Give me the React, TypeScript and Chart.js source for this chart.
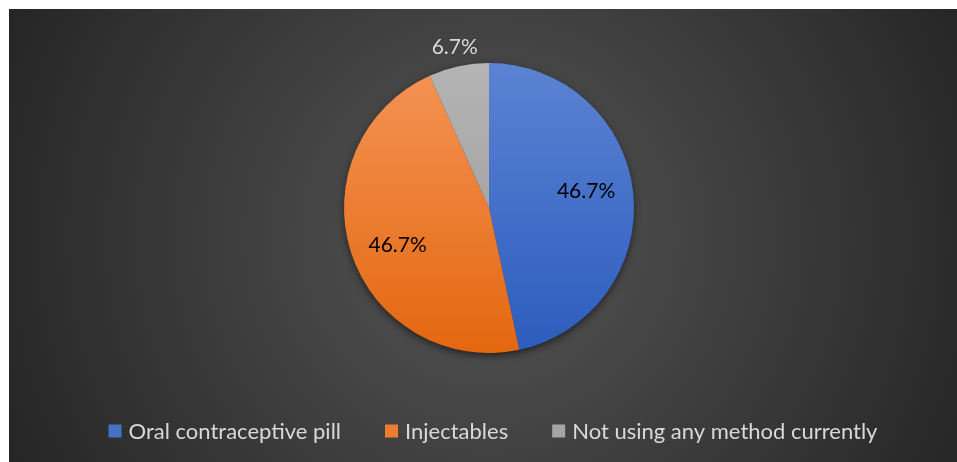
import React, { useEffect, useRef } from "react";
import { Chart, registerables } from "chart.js";

Chart.register(...registerables);

const categories = ["Oral contraceptive pill", "Injectables", "Not using any method currently"];
const values = [46.7, 46.7, 6.7];
const valueLabels = ["46.7%", "46.7%", "6.7%"];
const legendColors = ["#4472C4", "#ED7D31", "#A5A5A5"];
const gradTop = ["#5B83D3", "#F49456", "#B4B4B4"];
const gradBottom = ["#2C5CBD", "#E4670F", "#989898"];

const FONT = "Lato, 'Open Sans', sans-serif";

export default function App() {
  const ref = useRef<HTMLCanvasElement | null>(null);

  useEffect(() => {
    const canvas = ref.current;
    if (!canvas) return;

    const bgPlugin = {
      id: "bg",
      beforeDraw(chart: any) {
        const { ctx, width, height } = chart;
        const ca = chart.chartArea;
        const cx = ca ? (ca.left + ca.right) / 2 : width / 2;
        const g = ctx.createRadialGradient(cx, height * 0.5, 0, cx, height * 0.5, width * 0.55);
        g.addColorStop(0, "#555555");
        g.addColorStop(1, "#262626");
        ctx.save();
        ctx.fillStyle = g;
        ctx.fillRect(0, 0, width, height);
        ctx.restore();
      },
      beforeDatasetsDraw(chart: any) {
        const meta = chart.getDatasetMeta(0);
        const arc = meta.data[0];
        if (!arc) return;
        const { ctx } = chart;
        ctx.save();
        ctx.shadowColor = "rgba(0,0,0,0.65)";
        ctx.shadowBlur = 9;
        ctx.shadowOffsetY = 3;
        ctx.fillStyle = "#3a3a3a";
        ctx.beginPath();
        ctx.arc(arc.x, arc.y, arc.outerRadius - 1, 0, Math.PI * 2);
        ctx.fill();
        ctx.restore();
      },
      afterDatasetsDraw(chart: any) {
        const { ctx } = chart;
        const meta = chart.getDatasetMeta(0);
        ctx.save();
        ctx.textAlign = "center";
        ctx.textBaseline = "middle";
        ctx.font = `21px ${FONT}`;
        meta.data.forEach((arc: any, i: number) => {
          const small = arc.circumference < 0.5;
          const mid = (arc.startAngle + arc.endAngle) / 2 - (small ? 0 : 0.07);
          const r = small ? arc.outerRadius + 19 : arc.outerRadius * 0.68;
          const x = arc.x + Math.cos(mid) * r;
          const y = arc.y + Math.sin(mid) * r;
          ctx.fillStyle = small ? "#D9D9D9" : "#000000";
          ctx.fillText(valueLabels[i], x, y);
        });
        ctx.restore();
      },
      afterDraw(chart: any) {
        const { ctx } = chart;
        const ca = chart.chartArea;
        const box = 13;
        const gapText = 7;
        const gapItem = 44;
        ctx.save();
        ctx.font = `22px ${FONT}`;
        ctx.textBaseline = "middle";
        ctx.textAlign = "left";
        const widths = categories.map((c) => box + gapText + ctx.measureText(c).width);
        const total = widths.reduce((a, b) => a + b, 0) + gapItem * (categories.length - 1);
        const cx = (ca.left + ca.right) / 2 + 4;
        let x = cx - total / 2;
        const y = 422;
        categories.forEach((c, i) => {
          ctx.fillStyle = legendColors[i];
          ctx.fillRect(x, y - box / 2, box, box);
          ctx.fillStyle = "#D9D9D9";
          ctx.fillText(c, x + box + gapText, y + 1);
          x += widths[i] + gapItem;
        });
        ctx.restore();
      },
    };

    const chart = new Chart(canvas, {
      type: "pie",
      data: {
        labels: categories,
        datasets: [
          {
            data: values,
            borderWidth: 0,
            backgroundColor: (c: any) => {
              const ch = c.chart;
              const ca = ch.chartArea;
              const i = c.dataIndex;
              if (!ca) return legendColors[i];
              const g = ch.ctx.createLinearGradient(0, ca.top, 0, ca.bottom);
              g.addColorStop(0, gradTop[i]);
              g.addColorStop(1, gradBottom[i]);
              return g;
            },
          },
        ],
      },
      options: {
        animation: false,
        responsive: true,
        maintainAspectRatio: false,
        layout: { padding: { left: 12, right: 0, top: 54, bottom: 109 } },
        plugins: {
          legend: { display: false },
          tooltip: { enabled: false },
        },
      },
      plugins: [bgPlugin],
    });
    return () => chart.destroy();
  }, []);

  return (
    <div style={{ position: "absolute", left: 9, top: 9, width: 948, height: 453 }}>
      <canvas ref={ref} />
    </div>
  );
}
